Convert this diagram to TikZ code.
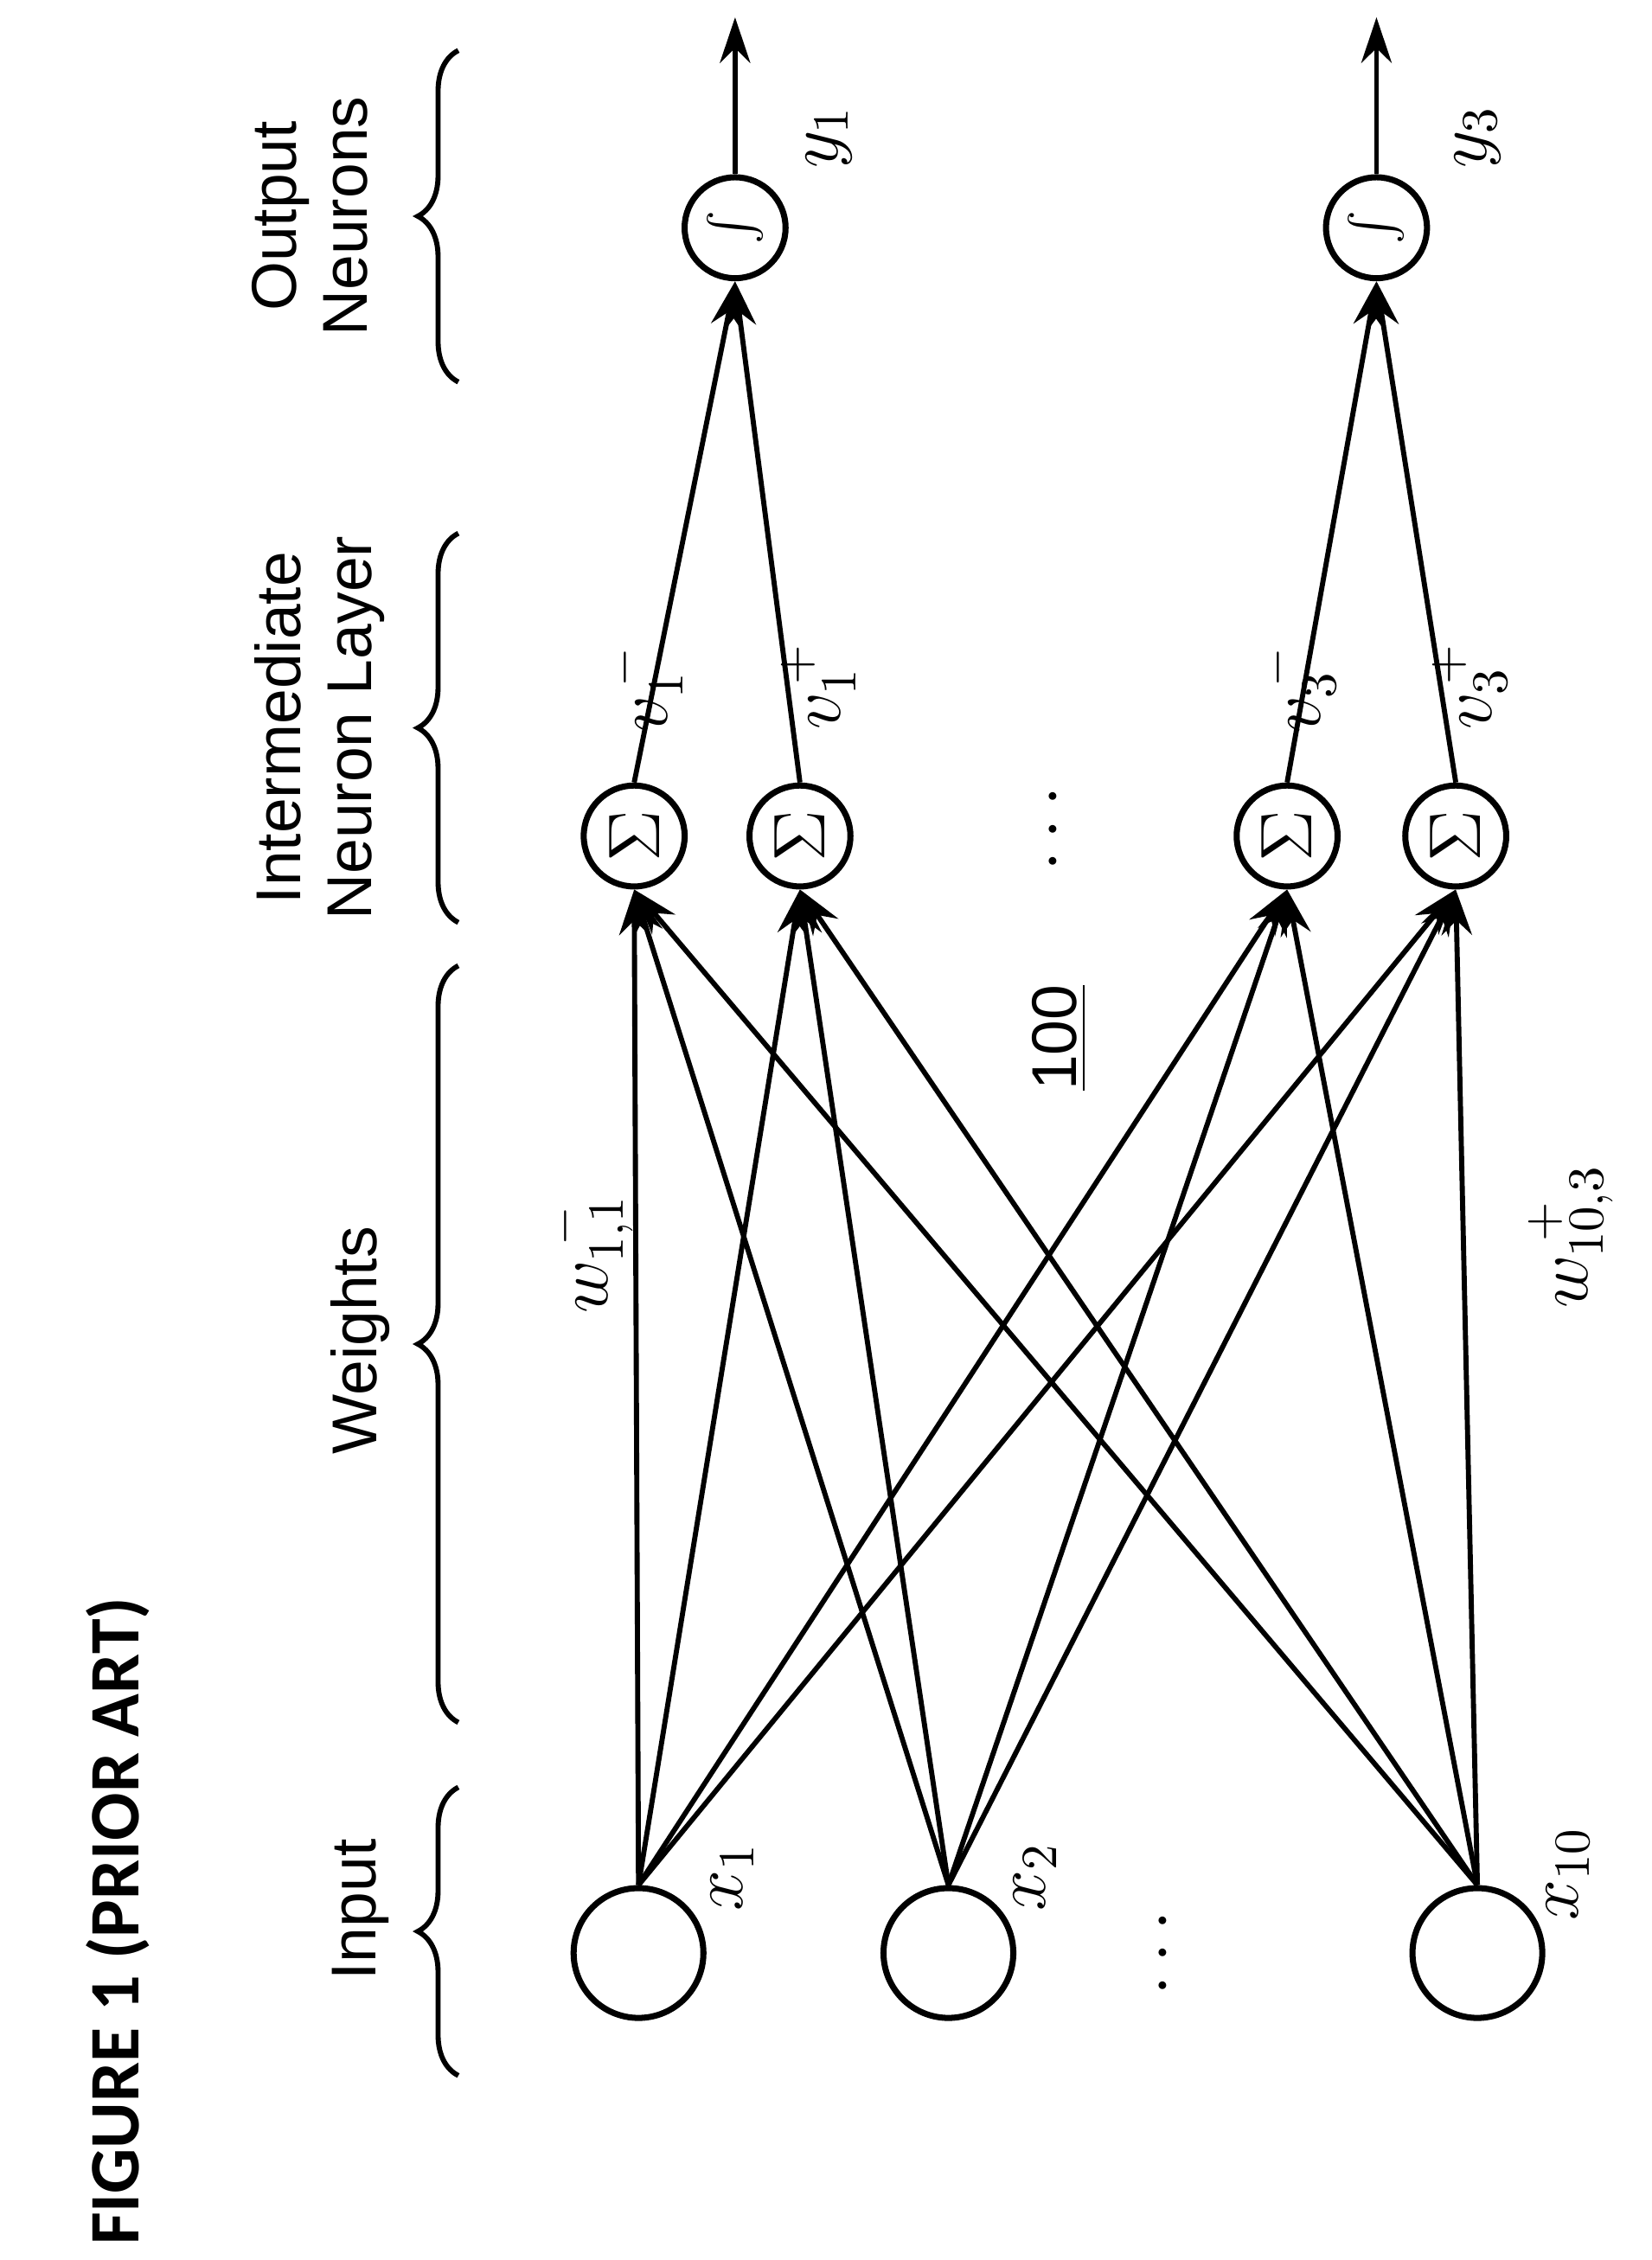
\documentclass[tikz,border=0pt]{standalone}
\usepackage{fontspec}
\setmainfont{Liberation Sans}
\newfontfamily\figfont{Carlito}
\usetikzlibrary{decorations.pathreplacing,arrows.meta}
\begin{document}
\begin{tikzpicture}[x=0.01cm,y=-0.01cm,
 neu/.style={circle,draw,line width=1.2pt,inner sep=0pt},
 con/.style={line width=1pt,-{Stealth[length=9pt,width=6pt]}},
 br/.style={decorate,decoration={brace,amplitude=8pt},line width=1pt},
 lab/.style={rotate=90,font=\fontsize{12.5}{14}\selectfont,align=center},
 ml/.style={rotate=90,font=\fontsize{14}{16}\selectfont}]
\useasboundingbox (0,0) rectangle (1146,1568);
% input
\node[neu,minimum size=0.9cm] (i1) at (443,1355) {};
\node[neu,minimum size=0.9cm] (i2) at (658,1355) {};
\node[neu,minimum size=0.9cm] (i10) at (1025,1355) {};
% sigma
\foreach \n/\x in {a/440,b/555,c/893,d/1010}
  \node[neu,minimum size=0.7cm,rotate=90,font=\Large] (s\n) at (\x,580) {$\Sigma$};
\node[neu,minimum size=0.7cm,rotate=90,font=\Large] (o1) at (510,158) {$\int$};
\node[neu,minimum size=0.7cm,rotate=90,font=\Large] (o3) at (955,158) {$\int$};
\coordinate (t1) at (510,12); \coordinate (t3) at (955,12);
\foreach \i in {i1,i2,i10}
  \foreach \s in {sa,sb,sc,sd}
    \draw[con] (\i.north) -- (\s.west);
\draw[con] (sa.east) -- (o1.west);
\draw[con] (sb.east) -- (o1.west);
\draw[con] (sc.east) -- (o3.west);
\draw[con] (sd.east) -- (o3.west);
\draw[con] (o1.east) -- (t1);
\draw[con] (o3.east) -- (t3);
% labels
\node[ml] (lx1) at (508,1302) {$x_1$};
\node[ml] (lx2) at (718,1302) {$x_2$};
\node[ml] (lx10) at (1088,1300) {$x_{10}$};
\node[ml] (lv1m) at (448,478) {$v_1^{\,-}$};
\node[ml] (lv1p) at (568,476) {$v_1^{\,+}$};
\node[ml] (lv3m) at (901,478) {$v_3^{\,-}$};
\node[ml] (lv3p) at (1020,476) {$v_3^{\,+}$};
\node[ml] (ly1) at (575,95) {$y_1$};
\node[ml] (ly3) at (1025,95) {$y_3$};
\node[ml] (lw1) at (410,870) {$w_{1,1}^{\;-}$};
\node[ml] (lw2) at (1090,858) {$w_{10,3}^{\;+}$};
\node[ml] (d1) at (808,1355) {$\cdots$};
\node[ml] (d2) at (732,575) {$\cdots$};
% braces
\draw[br] (318,1440) -- (318,1240);
\draw[br] (318,1195) -- (318,670);
\draw[br] (318,640) -- (318,370);
\draw[br] (318,265) -- (318,35);
\node[lab] (tin) at (250,1325) {Input};
\node[lab] (tw) at (250,930) {Weights};
\node[lab] (tim) at (222,505) {Intermediate\\Neuron Layer};
\node[lab] (to) at (215,150) {Output\\Neurons};
\node[lab] (n100) at (735,720) {\underline{100}};
\node[rotate=90,font=\figfont\fontsize{14}{16}\selectfont\bfseries] (fig) at (82,1333) {FIGURE 1 (PRIOR ART)};
\end{tikzpicture}
\end{document}
